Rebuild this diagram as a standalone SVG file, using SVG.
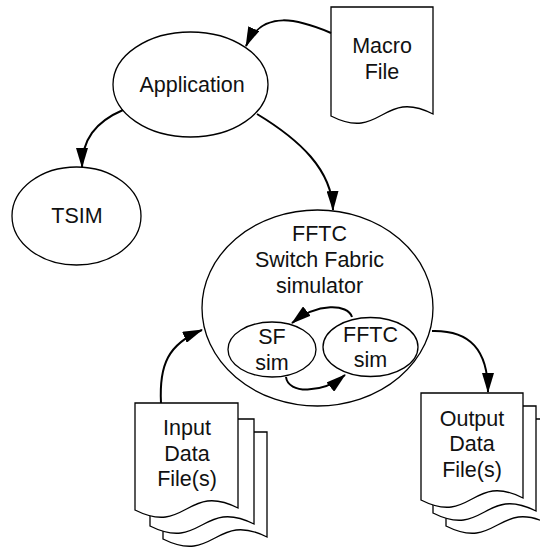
<svg xmlns="http://www.w3.org/2000/svg" width="540" height="547" viewBox="0 0 540 547">
<style>
.sh{fill:#fff;stroke:#000;stroke-width:1.3}
.cn{fill:none;stroke:#000;stroke-width:2}
.t{font-family:"Liberation Sans",Arial,sans-serif;font-size:21.5px;fill:#111;text-anchor:middle}
</style>
<defs>
<marker id="ah" viewBox="0 0 20 12" markerUnits="userSpaceOnUse" markerWidth="20" markerHeight="12" refX="19" refY="6" orient="auto">
<path d="M0,0 L20,6 L0,12 z" fill="#000"/>
</marker>
</defs>
<rect width="540" height="547" fill="#fff"/>
<g id="macro">
<path class="sh" d="M331,7 H433 V114 C382,88 382,142 331,116 Z"/>
<text class="t" x="382" y="53">Macro</text>
<text class="t" x="382" y="79">File</text>
</g>
<g id="application">
<ellipse class="sh" cx="190.5" cy="84.5" rx="77.5" ry="52.5"/>
<text class="t" x="192" y="92">Application</text>
</g>
<g id="tsim">
<ellipse class="sh" cx="76.5" cy="216" rx="64.5" ry="49"/>
<text class="t" x="77" y="223">TSIM</text>
</g>
<g id="fftc">
<ellipse class="sh" cx="317.5" cy="308" rx="115.5" ry="98"/>
<text class="t" x="319.5" y="241">FFTC</text>
<text class="t" x="319.5" y="267">Switch Fabric</text>
<text class="t" x="319.5" y="293">simulator</text>
</g>
<g id="sfsim">
<ellipse class="sh" cx="272" cy="349.5" rx="44" ry="27.5"/>
<text class="t" x="272" y="344">SF</text>
<text class="t" x="272" y="370">sim</text>
</g>
<g id="fftcsim">
<ellipse class="sh" cx="370.5" cy="347" rx="47.5" ry="29.5"/>
<text class="t" x="370.5" y="342">FFTC</text>
<text class="t" x="370.5" y="367">sim</text>
</g>
<g id="input">
<path class="sh" d="M163,432 H267 V537 C215,511 215,565 163,539 Z"/>
<path class="sh" d="M150,419 H254 V524 C202,498 202,552 150,526 Z"/>
<path class="sh" d="M135,403 H238 V508 C186.5,482 186.5,536 135,510 Z"/>
<text class="t" x="187" y="435">Input</text>
<text class="t" x="187" y="461">Data</text>
<text class="t" x="187" y="486">File(s)</text>
</g>
<g id="output">
<path class="sh" d="M446,419 H549 V524 C497.5,498 497.5,552 446,526 Z"/>
<path class="sh" d="M433,406 H536 V511 C484.5,485 484.5,539 433,513 Z"/>
<path class="sh" d="M421,393 H523 V498 C472,472 472,526 421,500 Z"/>
<text class="t" x="472" y="426">Output</text>
<text class="t" x="472" y="451">Data</text>
<text class="t" x="472" y="477">File(s)</text>
</g>
<g id="connectors">
<path class="cn" marker-end="url(#ah)" d="M331,33 C300,20 263,8 246,46"/>
<path class="cn" marker-end="url(#ah)" d="M123,110 C95,122 82,140 82,167"/>
<path class="cn" marker-end="url(#ah)" d="M257,114 C300,140 332,170 333,210"/>
<path class="cn" marker-end="url(#ah)" d="M161,403 C159,365 168,344 202,330"/>
<path class="cn" marker-end="url(#ah)" d="M432,331 C470,330 488,350 488,392"/>
<path class="cn" marker-end="url(#ah)" d="M352,317 C348,304 318,302 292,323"/>
<path class="cn" marker-end="url(#ah)" d="M286,377 C288,394 322,394 345,375"/>
</g>
</svg>
